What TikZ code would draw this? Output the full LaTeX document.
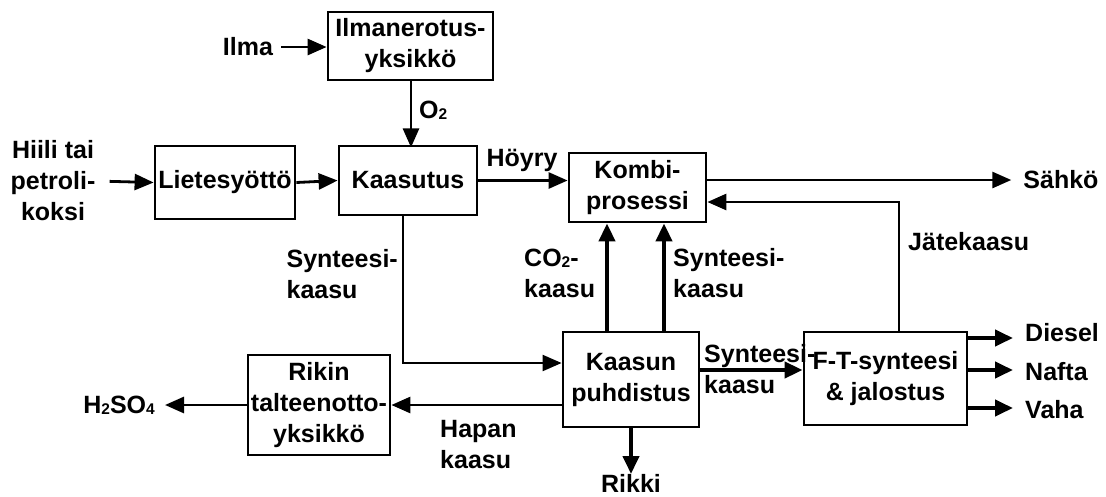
\documentclass[tikz,border=0pt]{standalone}
\usepackage{fontspec}
\setmainfont{Liberation Sans}
\usetikzlibrary{arrows.meta}
\newcommand\mysub[1]{\raisebox{-1pt}{\fontsize{15.5}{15.5}\selectfont #1}}
\begin{document}
\begin{tikzpicture}[x=1pt,y=-1pt,
  every node/.style={font=\fontsize{25}{31}\selectfont\bfseries, inner sep=0pt},
  box/.style={draw=black, line width=2.8pt, align=center},
  lbl/.style={align=center},
  arr/.style={line width=2.8pt, -{Triangle[length=19pt,width=16pt]}},
  arrthick/.style={line width=4pt, -{Triangle[length=18pt,width=16pt]}},
  arrthin/.style={line width=2.2pt, -{Triangle[length=19pt,width=16pt]}}
]
\useasboundingbox (0,0) rectangle (1106,496);
% boxes
\node[box, minimum width=165pt, minimum height=68pt] (ilm) at (410.5,46) {Ilmanerotus-\\yksikkö};
\node[box, minimum width=140pt, minimum height=73pt] (liet) at (225,182.5) {Lietesyöttö};
\node[box, minimum width=138pt, minimum height=69pt] (kaas) at (408,180.5) {Kaasutus};
\node[box, minimum width=137pt, minimum height=69pt] (kombi) at (637.5,187.5) {Kombi-\\prosessi};
\node[box, minimum width=136pt, minimum height=95pt] (kpuh) at (631,379.5) {Kaasun\\puhdistus};
\node[box, minimum width=163pt, minimum height=93pt] (ft) at (885.5,378.5) {F-T-synteesi\\\& jalostus};
\node[box, minimum width=142pt, minimum height=100pt] (rikin) at (319,405) {Rikin\\talteenotto-\\yksikkö};
% labels
\node[lbl] (ilma) at (248,47) {Ilma};
\node[lbl, anchor=west] (o2) at (419,110) {O\mysub{2}};
\node[lbl] (hiili) at (53,181) {Hiili tai\\petroli-\\koksi};
\node[lbl] (hoyry) at (522,160) {Höyry};
\node[lbl] (sahko) at (1061,180) {Sähkö};
\node[lbl, anchor=west] (jate) at (908,242) {Jätekaasu};
\node[lbl, align=left, anchor=east] (syn1) at (398,274) {Synteesi-\\kaasu};
\node[lbl, align=left, anchor=west] (co2) at (524,273) {CO\mysub{2}-\\kaasu};
\node[lbl, align=left, anchor=west] (syn2) at (673,273) {Synteesi-\\kaasu};
\node[lbl, align=left, anchor=west] (syn3) at (704,369) {Synteesi-\\kaasu};
\node[lbl, align=left, anchor=west] (hapan) at (440,445) {Hapan\\kaasu};
\node[lbl, anchor=north] (rikki) at (631,474) {Rikki};
\node[lbl, anchor=east] (h2so4) at (155,405) {H\mysub{2}SO\mysub{4}};
\node[lbl, anchor=west] (diesel) at (1025,333) {Diesel};
\node[lbl, anchor=west] (nafta) at (1025,372) {Nafta};
\node[lbl, anchor=west] (vaha) at (1025,410) {Vaha};
% connectors
\draw[arr, shorten <=8pt] (ilma.east) -- (ilm.west |- ilma.east);
\draw[arr] (ilm.south -| o2.west) ++(-8pt,0) -- ++(0,-66pt);
\draw[arr, shorten <=14pt] (hiili.east) -- (liet.west);
\draw[arr] (liet.east) -- (kaas.west);
\draw[arr] (kaas.east) -- (kaas.east -| kombi.west);
\draw[arr, shorten >=12pt] ([yshift=7.5pt]kombi.east) -- ([yshift=7.5pt]kombi.east -| sahko.west);
\draw[arr] ([xshift=13.5pt]ft.north) |- ([yshift=-14.5pt]kombi.east);
\draw[arrthin] ([xshift=-5pt]kaas.south) |- ([yshift=16.5pt]kpuh.west);
\draw[arrthick] ([xshift=-24pt]kpuh.north) -- ([xshift=-24pt]kpuh.north |- kombi.south);
\draw[arrthick] ([xshift=33pt]kpuh.north) -- ([xshift=33pt]kpuh.north |- kombi.south);
\draw[arrthick] ([yshift=9.5pt]kpuh.east) -- ([yshift=9.5pt]kpuh.east -| ft.west);
\draw[arr] (rikin.east -| kpuh.west) -- (rikin.east);
\draw[arrthick] (kpuh.south) -- (rikki.north);
\draw[arr, shorten >=10pt] (rikin.west) -- (h2so4.east);
\draw[arrthick, shorten >=12pt] ([yshift=40.5pt]ft.east) -- ([yshift=40.5pt]ft.east -| diesel.west);
\draw[arrthick, shorten >=12pt] ([yshift=8.5pt]ft.east) -- ([yshift=8.5pt]ft.east -| nafta.west);
\draw[arrthick, shorten >=12pt] ([yshift=-29.5pt]ft.east) -- ([yshift=-29.5pt]ft.east -| vaha.west);
\end{tikzpicture}
\end{document}
